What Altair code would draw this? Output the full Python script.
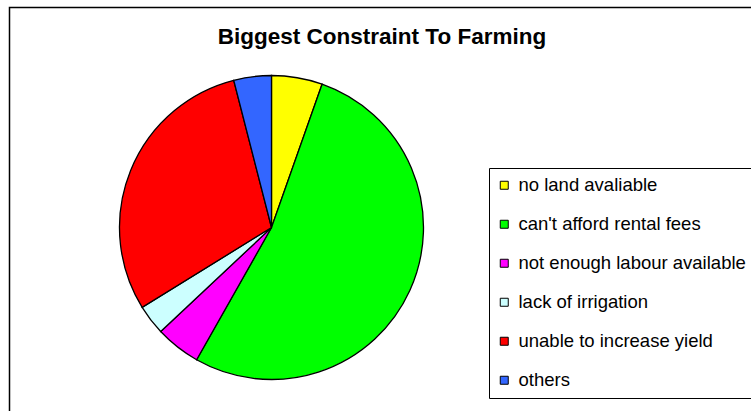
import altair as alt
import pandas as pd

categories = ["no land avaliable", "can't afford rental fees", "not enough labour available",
              "lack of irrigation", "unable to increase yield", "others"]
shares = [5.4, 52.8, 4.8, 3.2, 29.8, 4.0]
colors = ["#FFFF00", "#00FF00", "#FF00FF", "#CCFFFF", "#FF0000", "#3366FF"]

df = pd.DataFrame({"category": categories, "share": shares, "order": list(range(len(categories)))})

W, H = 742, 404

pie = alt.Chart(df).mark_arc(stroke="black", strokeWidth=1.3, outerRadius=152).encode(
    theta=alt.Theta("share:Q", stack=True),
    order=alt.Order("order:Q"),
    color=alt.Color(
        "category:N",
        scale=alt.Scale(domain=categories, range=colors),
        sort=categories,
        legend=alt.Legend(
            title=None,
            orient="none",
            legendX=480,
            legendY=161,
            strokeColor="black",
            fillColor="white",
            padding=8,
            symbolType="square",
            symbolSize=64,
            symbolOffset=-2,
            symbolStrokeColor="black",
            symbolStrokeWidth=1,
            labelFont="Liberation Sans",
            labelFontSize=18.5,
            labelColor="black",
            labelOffset=5,
            rowPadding=20.0,
            labelLimit=400,
        ),
    ),
    x=alt.value(262.5),
    y=alt.value(220.5),
)

frame = alt.Chart(alt.Data(values=[{"a": 1}])).mark_rect(
    fill=None, stroke="black", strokeWidth=1.5
).encode(
    x=alt.value(0.5), y=alt.value(0.5), x2=alt.value(W + 40), y2=alt.value(H + 40)
)

chart = alt.layer(frame, pie).properties(
    width=W,
    height=H,
    autosize=alt.AutoSizeParams(type="none"),
    padding={"left": 9, "top": 7, "right": 0, "bottom": 0},
    title=alt.TitleParams(
        "Biggest Constraint To Farming",
        font="Liberation Sans",
        fontSize=22.5,
        fontWeight="bold",
        color="black",
        anchor="middle",
        frame="group",
        baseline="alphabetic",
        offset=-60,
        dx=2,
    ),
).configure_view(stroke=None).configure(background="white")

chart.save("out.html", embed_options={"renderer": "svg", "actions": False})
